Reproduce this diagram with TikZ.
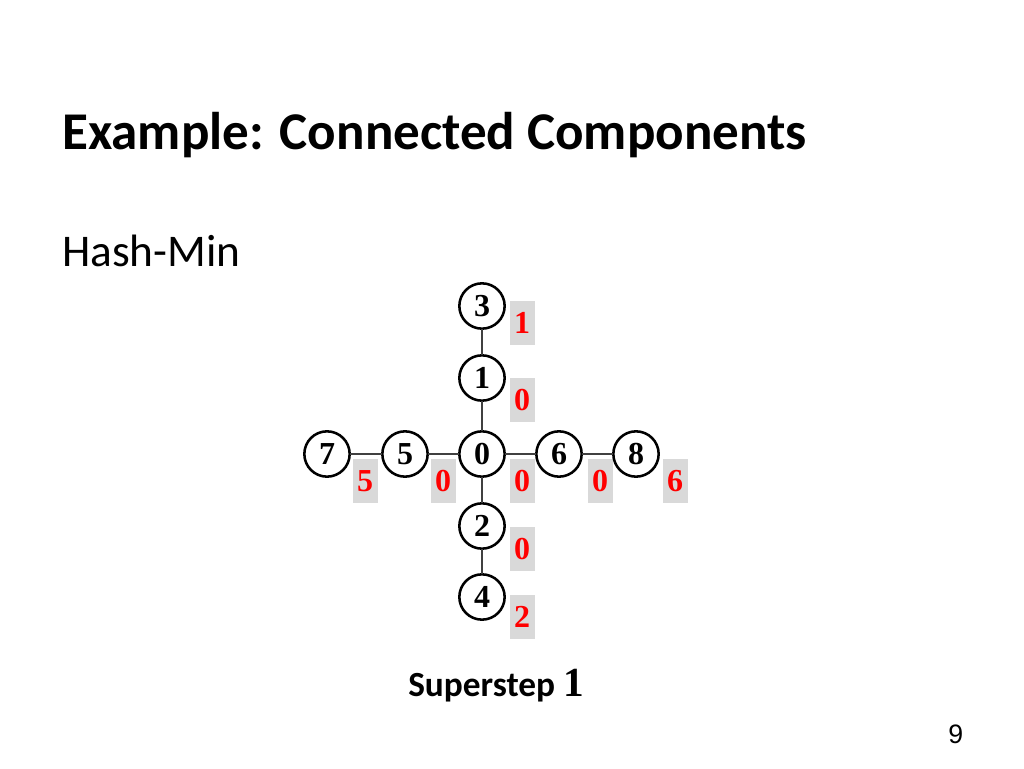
\documentclass[tikz,border=0pt]{standalone}
\usepackage{fontspec}
\setmainfont{Carlito}
\newfontfamily\numfont{Liberation Serif}
\newfontfamily\pagefont{Liberation Sans}
\usepackage{tkz-graph}
\usetikzlibrary{arrows}
\usetikzlibrary{shapes}
\definecolor{boxgray}{HTML}{D9D9D9}
\definecolor{edgegray}{HTML}{404040}

\begin{document}
\begin{tikzpicture}[x = 0.75pt, y = 0.75pt]
\tikzstyle{VertexStyle} = []
\tikzstyle{EdgeStyle} = [draw = edgegray, line width = 1pt]
\tikzstyle{labeledStyle}=[shape = circle, minimum size = 34pt, inner sep = 0pt, draw, line width = 1.9pt, fill = white, font = \numfont\bfseries\fontsize{24}{28}\selectfont]
\tikzstyle{valueStyle}=[shape = rectangle, minimum width = 18.75pt, minimum height = 33pt, inner sep = 0pt, fill = boxgray, text = red, font = \numfont\bfseries\fontsize{24}{28}\selectfont]
\tikzstyle{textStyle}=[anchor = base west, inner sep = 0pt]
\useasboundingbox (0,0) rectangle (1024,768);
\node[textStyle, font = \bfseries\fontsize{39.8}{48}\selectfont] (title) at (62,618) {Example: Connected Components};
\node[textStyle, font = \fontsize{34}{40}\selectfont] (algo) at (62,501) {Hash-Min};
\node[valueStyle] (c3) at (522,445) {1};
\node[valueStyle] (c1) at (522,368) {0};
\node[valueStyle] (c0) at (522,287) {0};
\node[valueStyle] (c2) at (522,219) {0};
\node[valueStyle] (c4) at (522,151) {2};
\node[valueStyle] (c7) at (365,287) {5};
\node[valueStyle] (c5) at (443,287) {0};
\node[valueStyle] (c6) at (600,287) {0};
\node[valueStyle] (c8) at (675,287) {6};
\Vertex[style = labeledStyle, x = 482, y = 462, L = {3}]{v3}
\Vertex[style = labeledStyle, x = 482, y = 390, L = {1}]{v1}
\Vertex[style = labeledStyle, x = 482, y = 314, L = {0}]{v0}
\Vertex[style = labeledStyle, x = 482, y = 242, L = {2}]{v2}
\Vertex[style = labeledStyle, x = 482, y = 171, L = {4}]{v4}
\Vertex[style = labeledStyle, x = 327, y = 314, L = {7}]{v7}
\Vertex[style = labeledStyle, x = 405, y = 314, L = {5}]{v5}
\Vertex[style = labeledStyle, x = 559, y = 314, L = {6}]{v6}
\Vertex[style = labeledStyle, x = 636, y = 314, L = {8}]{v8}
\Edge(v3)(v1)
\Edge(v1)(v0)
\Edge(v0)(v2)
\Edge(v2)(v4)
\Edge(v7)(v5)
\Edge(v5)(v0)
\Edge(v0)(v6)
\Edge(v6)(v8)
\node[textStyle, font = \fontsize{26.5}{32}\selectfont] (step) at (408,72) {\textbf{Superstep} {\numfont\bfseries\fontsize{31}{36}\selectfont 1}};
\node[textStyle, font = \pagefont\fontsize{20}{24}\selectfont] (page) at (948,25) {9};
\end{tikzpicture}
\end{document}
